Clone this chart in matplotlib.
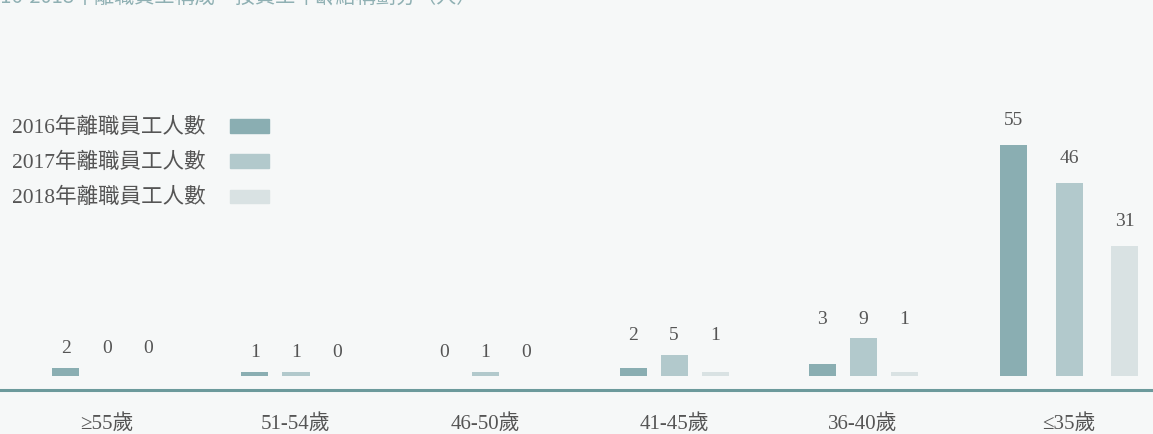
import matplotlib
matplotlib.use('Agg')
import matplotlib.pyplot as plt
import numpy as np

# data
age_groups = ['≥55歲', '51-54歲', '46-50歲', '41-45歲', '36-40歲', '≤35歲']
series_names = ['2016年離職員工人數', '2017年離職員工人數', '2018年離職員工人數']
leavers_2016 = [2, 1, 0, 2, 3, 55]
leavers_2017 = [0, 1, 1, 5, 9, 46]
leavers_2018 = [0, 0, 0, 1, 1, 31]
title_text = '2016-2018年離職員工構成－按員工年齡結構劃分（人）'

colors = ['#8aaeb2', '#b2c9cc', '#d9e2e3']
bg = '#f6f8f8'
text_col = '#555555'
serif = ['Liberation Serif', 'Noto Sans CJK TC', 'DejaVu Sans']

fig = plt.figure(figsize=(11.53, 4.34), dpi=100, facecolor=bg)
ax = fig.add_axes([0, 0.101, 1, 0.899], facecolor=bg)

series = [leavers_2016, leavers_2017, leavers_2018]
x = np.arange(len(age_groups), dtype=float)
x[-1] += 0.09
# bar spacing inside each group (last group is spread wider in the original)
spacing = np.array([0.217] * 5 + [0.294])
width = 0.143

for k, vals in enumerate(series):
    pos = x + (k - 1) * spacing
    ax.bar(pos, vals, width=width, color=colors[k], label=series_names[k])

# value labels
for i in range(len(age_groups)):
    grp = [s[i] for s in series]
    for k, v in enumerate(grp):
        pos = x[i] + (k - 1) * spacing[i]
        if max(grp) < 10:
            y = max(grp) + 4.6
        else:
            y = v + 5.8
        ax.text(pos, y, str(v), ha='center', va='center', fontsize=14,
                color=text_col, family=serif)

ax.set_xlim(-0.566, 5.534)
ax.set_ylim(-3.33, 89.5)
ax.set_xticks(x)
ax.set_xticklabels(age_groups, family=serif, fontsize=15, color=text_col)
ax.tick_params(axis='x', length=0, pad=17)
ax.set_yticks([])
for s in ['top', 'right', 'left']:
    ax.spines[s].set_visible(False)
ax.spines['bottom'].set_color('#6c9a9c')
ax.spines['bottom'].set_linewidth(2.2)

# legend drawn by hand: labels left, swatches right
leg_y = [126, 161, 196]
for k in range(3):
    yf = 1 - leg_y[k] / 434
    fig.text(12 / 1153, yf - 2 / 434, series_names[k], ha='left', va='center',
             fontsize=15.5, color=text_col, family=serif)
    fig.patches.append(plt.Rectangle((230 / 1153, yf - 6.5 / 434), 39 / 1153, 13 / 434,
                                     transform=fig.transFigure, color=colors[k]))

fig.text(-22 / 1153, 1 - 3 / 434, title_text, ha='left', va='baseline',
         fontsize=14.5, color='#8fb0b3', family=['Noto Sans CJK TC', 'DejaVu Sans'])

fig.savefig('out.png', dpi=100, facecolor=bg)
